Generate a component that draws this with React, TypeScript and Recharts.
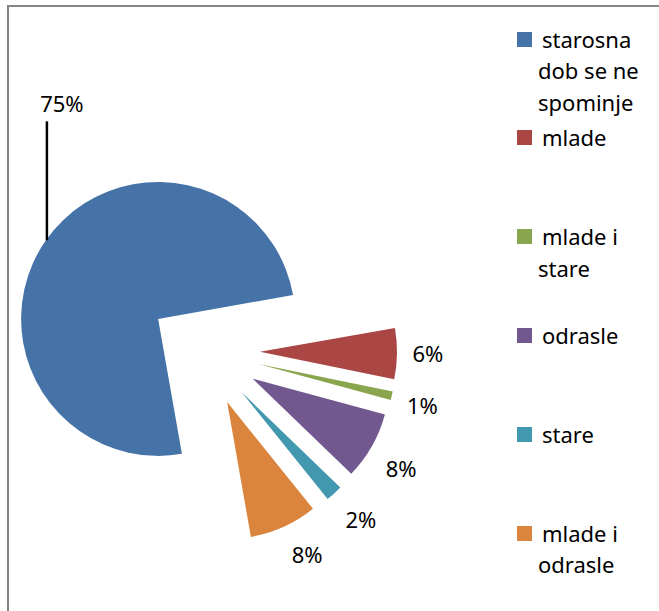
import React from 'react';
import { PieChart, Pie, Cell, Legend } from 'recharts';

const categories = ['starosna dob se ne spominje', 'mlade', 'mlade i stare', 'odrasle', 'stare', 'mlade i odrasle'];
const legendLines = [
  ['starosna', 'dob se ne', 'spominje'],
  ['mlade'],
  ['mlade i', 'stare'],
  ['odrasle'],
  ['stare'],
  ['mlade i', 'odrasle'],
];
const values = [75, 6, 1, 8, 2, 8];
const colors = ['#4572A7', '#AA4643', '#89A54E', '#71588F', '#4198AF', '#DB843D'];

const data = categories.map((name, i) => ({ name, value: values[i] }));

const START = 280;
const END = -80;
const CX = 204;
const CY = 351;
const R = 137;
const EXPLODE = 56;
const RAD = Math.PI / 180;
const FONT = '"Noto Sans", "Open Sans", sans-serif';

const total = values.reduce((a, b) => a + b, 0);
const midOf = (i: number) => {
  const before = values.slice(0, i).reduce((a, b) => a + b, 0);
  const a0 = START + ((END - START) * before) / total;
  const a1 = START + ((END - START) * (before + values[i])) / total;
  return (a0 + a1) / 2;
};

const makeLabel = (idx: number) => (props: any) => {
  if (props.index !== idx) return null;
  const { cx, cy, midAngle, outerRadius, percent } = props;
  const c = Math.cos(midAngle * RAD);
  const s = Math.sin(midAngle * RAD);
  const txt = `${Math.round(percent * 100)}%`;
  if (idx === 0) {
    const px = cx + outerRadius * c;
    const py = cy - outerRadius * s;
    return (
      <g>
        <line x1={px + 1} y1={py} x2={px + 1} y2={py - 119} stroke="#000" strokeWidth={2.5} />
        <text x={px + 16} y={py - 128} textAnchor="middle" fontFamily={FONT} fontSize={22} fill="#000">
          {txt}
        </text>
      </g>
    );
  }
  const lx = cx + 150 * c + 18 * Math.sign(c);
  const ly = cy - 150 * s - 17 * Math.min(1, 2 * Math.abs(s)) * Math.sign(s);
  return (
    <text x={lx} y={ly} dy="0.35em" textAnchor="middle" fontFamily={FONT} fontSize={22} fill="#000">
      {txt}
    </text>
  );
};

const renderLegend = () => (
  <div style={{ position: 'relative', width: 1, height: 1 }}>
    {legendLines.map((lines, i) => {
      const top = 23.5 + 98.8 * i;
      return (
        <div key={i}>
          <div
            style={{
              position: 'absolute',
              left: 517,
              top: top + 8,
              width: 15,
              height: 15,
              background: colors[i],
            }}
          />
          <div
            style={{
              position: 'absolute',
              left: 538,
              top,
              width: 120,
              fontFamily: FONT,
              fontSize: 22,
              lineHeight: '31.5px',
              color: '#000',
              whiteSpace: 'nowrap',
            }}
          >
            {lines.map((l, j) => (
              <div key={j} style={{ paddingLeft: j === 0 ? 4 : 0 }}>
                {l}
              </div>
            ))}
          </div>
        </div>
      );
    })}
  </div>
);

export default function App() {
  return (
    <div style={{ position: 'absolute', left: 0, top: 0, width: 659, height: 611, background: '#fff', overflow: 'hidden' }}>
      <div
        style={{
          position: 'absolute',
          left: 7,
          top: 5,
          width: 700,
          height: 700,
          borderLeft: '2px solid #858585',
          borderTop: '2px solid #858585',
        }}
      />
      <div style={{ position: 'absolute', left: 0, top: 0 }}>
        <PieChart width={659} height={611} margin={{ top: 0, right: 0, bottom: 0, left: 0 }}>
          {values.map((_, i) => {
            const m = midOf(i);
            const cx = CX + EXPLODE * Math.cos(m * RAD);
            const cy = CY - EXPLODE * Math.sin(m * RAD);
            return (
              <Pie
                key={i}
                data={data}
                dataKey="value"
                nameKey="name"
                cx={cx}
                cy={cy}
                outerRadius={R}
                innerRadius={0}
                startAngle={START}
                endAngle={END}
                stroke="none"
                isAnimationActive={false}
                labelLine={false}
                label={makeLabel(i)}
              >
                {data.map((d, j) => (
                  <Cell key={j} fill={j === i ? colors[j] : 'none'} stroke="none" />
                ))}
              </Pie>
            );
          })}
          <Legend content={renderLegend} wrapperStyle={{ left: 0, top: 0, width: 1, height: 1 }} />
        </PieChart>
      </div>
    </div>
  );
}
